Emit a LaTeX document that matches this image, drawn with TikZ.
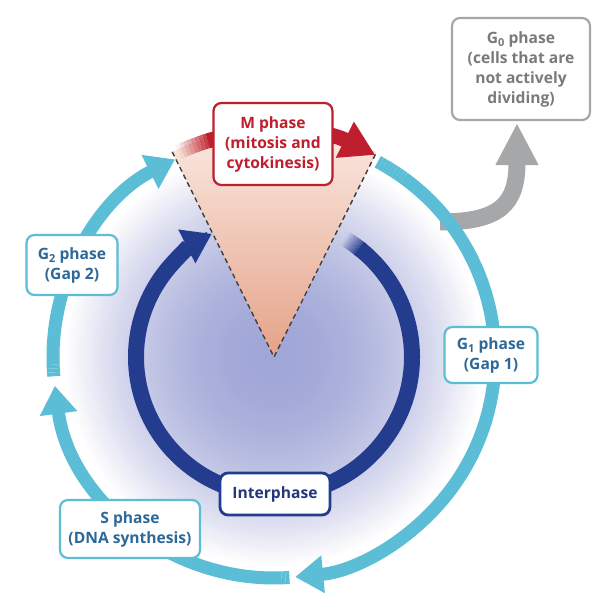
\documentclass[tikz,border=0pt]{standalone}
\usepackage{fontspec}
\setmainfont{Open Sans}
\usepackage{xcolor}
\usepackage{tikz}
\usetikzlibrary{arrows.meta}
\definecolor{ringteal}{HTML}{5BBDD6}
\definecolor{ringnavy}{HTML}{243C8E}
\definecolor{mred}{HTML}{BE1E2D}
\definecolor{gzgray}{HTML}{A6A7A9}
\definecolor{gztext}{HTML}{7A7A7A}
\definecolor{boxtext}{HTML}{2D6898}
\definecolor{intertext}{HTML}{26347A}
\definecolor{glow}{HTML}{9CA2D5}
\definecolor{wedgetop}{HTML}{FBECE5}
\definecolor{wedgebot}{HTML}{E5A288}
\newcommand{\phsub}[1]{\raisebox{-0.35ex}{\fontsize{11}{11}\selectfont #1}}

\begin{document}
\begin{tikzpicture}[x=1pt, y=1pt,
  phasebox/.style={rectangle, rounded corners=8pt, draw=ringteal, line width=2.2pt, fill=white, align=center, text=boxtext, inner sep=0pt, font=\bfseries\fontsize{15.6}{20}\selectfont},
  outerring/.style={draw=ringteal, line width=13pt},
  innerring/.style={draw=ringnavy, line width=16pt},
  bigtip/.style={-{Triangle[length=28pt, width=36pt]}},
  cutline/.style={dash pattern=on 5pt off 3.5pt, line width=1.4pt, draw=black!75}
]
\useasboundingbox (0,0) rectangle (606,616);
\coordinate (C) at (274,259);
\foreach \r [evaluate=\r as \p using 96*(1-(\r/210)^2)] in {210,207,...,3}
  \fill[glow!\p!white] (C) circle (\r);
\shade[top color=wedgetop, bottom color=wedgebot] (C) -- ++(63.4:229) arc[start angle=63.4, end angle=116.4, radius=229] -- cycle;

\coordinate (gstart) at (440,394);
\node[phasebox, draw=gzgray, text=gztext, minimum width=138pt, minimum height=102pt] (gzero) at (521,547) {G\phsub{0} phase\\(cells that are\\not actively\\dividing)};
\draw[draw=gzgray, line width=17pt, -{Triangle[length=42pt, width=40pt]}, shorten >=2pt] (gstart) .. controls (500,394) and (517,412) .. ([xshift=-4pt]gzero.south);

\foreach \s/\n in {62/8, -86/5, 185/6}
  \foreach \a [evaluate=\a as \op using (\a-0.5)/\n] in {1,...,\n}
    \draw[outerring, draw opacity=\op] (C) ++(\s-\a+1:221) arc[start angle=\s-\a+1, end angle=\s-\a, radius=221];
\draw[outerring, bigtip] (C) ++(54:221) arc[start angle=54, end angle=-84.5, radius=221];
\draw[outerring, bigtip] (C) ++(-91:221) arc[start angle=-91, end angle=-172.5, radius=221];
\draw[outerring, bigtip] (C) ++(179:221) arc[start angle=179, end angle=116.6, radius=221];

\foreach \a [evaluate=\a as \op using (\a-0.5)/8] in {1,...,8}
  \draw[innerring, draw opacity=\op] (C) ++(60-\a:138) arc[start angle=60-\a, end angle=59-\a, radius=138];
\draw[innerring, bigtip] (C) ++(52:138) arc[start angle=52, end angle=-243.2, radius=138];

\foreach \a [evaluate=\a as \op using (\a-0.5)/9] in {1,...,9}
  \draw[draw=mred, line width=15pt, draw opacity=\op] (C) ++(116-\a:226) arc[start angle=116-\a, end angle=115-\a, radius=226];
\draw[draw=mred, line width=15pt, -{Triangle[length=34pt, width=38pt]}] (C) ++(107:226) arc[start angle=107, end angle=63.4, radius=226];

\path (C) ++(116.4:229) coordinate (wl);
\path (C) ++(63.4:229) coordinate (wr);
\draw[cutline] (wl) -- (C) -- (wr);

\node[phasebox, draw=mred, text=mred, minimum width=119pt, minimum height=82pt] (mphase) at (273,472) {M phase\\(mitosis and\\cytokinesis)};
\node[phasebox, minimum width=91pt, minimum height=60pt] (gtwo) at (72,351) {G\phsub{2} phase\\(Gap 2)};
\node[phasebox, minimum width=93pt, minimum height=56pt] (gone) at (491,261) {G\phsub{1} phase\\(Gap 1)};
\node[phasebox, minimum width=140pt, minimum height=58pt] (sphase) at (130,87) {S phase\\(DNA synthesis)};
\node[phasebox, draw=ringnavy, line width=2.8pt, text=intertext, minimum width=110pt, minimum height=42pt] (inter) at (275,122) {Interphase};
\end{tikzpicture}
\end{document}
